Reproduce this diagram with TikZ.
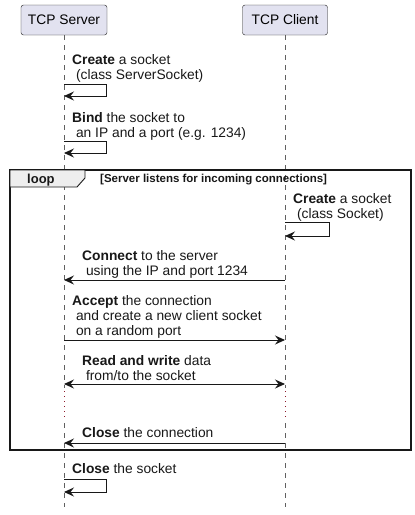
\documentclass[tikz,border=0pt]{standalone}
\usepackage{fontspec}
\setmainfont{Liberation Sans}
\usetikzlibrary{arrows.meta,calc,positioning}
\definecolor{actorfill}{HTML}{E2E2F0}
\definecolor{inkgray}{HTML}{181818}
\definecolor{lifegray}{HTML}{606060}
\definecolor{tabgray}{HTML}{EEEEEE}
\definecolor{delayred}{HTML}{8B1A2B}

\begin{document}
\begin{tikzpicture}[x=1pt, y=-1pt,
	actor/.style={draw=inkgray, fill=actorfill, rounded corners=2.5pt,
		minimum height=30pt, inner sep=0pt, font=\fontsize{13.8}{16}\selectfont},
	lifeline/.style={lifegray, line width=0.6pt, dash pattern=on 5pt off 5pt},
	delay/.style={delayred, line width=0.8pt, dash pattern=on 1pt off 4pt},
	msg/.style={inkgray, line width=0.9pt, -{Stealth[length=10pt, width=9pt, inset=3.5pt]}},
	msgboth/.style={msg, {Stealth[length=10pt, width=9pt, inset=3.5pt]}-{Stealth[length=10pt, width=9pt, inset=3.5pt]}},
	txt/.style={anchor=base west, align=left, inner sep=0pt, text=inkgray,
		font=\fontsize{13.8}{15}\selectfont},
]

% parameters %{{{2

	\def\srvx{64}
	\def\clix{285}
	\def\bottom{507}

	\useasboundingbox (0,0) rectangle (415,515);

% participants %{{{2

	\node[actor, minimum width=86pt] (server) at (\srvx,20) {TCP Server};
	\node[actor, minimum width=85pt] (client) at (\clix,20) {TCP Client};

% coordinates %{{{2

	\coordinate (srvA) at (\srvx,388);
	\coordinate (srvB) at (\srvx,391);
	\coordinate (srvC) at (\srvx,420);
	\coordinate (srvD) at (\srvx,423);
	\coordinate (srvE) at (\srvx,\bottom);
	\coordinate (cliA) at (\clix,388);
	\coordinate (cliB) at (\clix,391);
	\coordinate (cliC) at (\clix,420);
	\coordinate (cliD) at (\clix,423);
	\coordinate (cliE) at (\clix,\bottom);

	% message ends
	\coordinate (s1) at (\srvx,84);
	\coordinate (s1r) at (\srvx,96);
	\coordinate (s2) at (\srvx,141);
	\coordinate (s2r) at (\srvx,153);
	\coordinate (c1) at (\clix,222);
	\coordinate (c1r) at (\clix,236);
	\coordinate (cn1) at (\clix,280);
	\coordinate (cn2) at (\srvx,280);
	\coordinate (ac1) at (\srvx,340);
	\coordinate (ac2) at (\clix,340);
	\coordinate (rw1) at (\srvx,384);
	\coordinate (rw2) at (\clix,384);
	\coordinate (cl1) at (\clix,443);
	\coordinate (cl2) at (\srvx,443);
	\coordinate (s3) at (\srvx,479);
	\coordinate (s3r) at (\srvx,492);

% lifelines %{{{2

	\draw[lifeline] (server.south) -- (srvA);
	\draw[lifeline] (srvD) -- (srvE);
	\draw[lifeline] (client.south) -- (cliA);
	\draw[lifeline] (cliD) -- (cliE);

	\draw[delay] (srvB) -- (srvC);
	\draw[delay] (cliB) -- (cliC);

% loop frame %{{{2

	\draw[inkgray, line width=1.4pt] (10,170) rectangle (411,450);
	\draw[inkgray, line width=0.9pt, fill=tabgray]
		(10,170) -- (85,170) -- (85,178) -- (77,187) -- (10,187) -- cycle;
	\node[txt, font=\bfseries\fontsize{13}{15}\selectfont] (looplbl) at (27,183) {loop};
	\node[txt, font=\bfseries\fontsize{11.5}{13}\selectfont] (loopcond) at (100,182)
		{[Server listens for incoming connections]};

% messages (base = last line) %{{{2

	\node[txt] (create) at (72,79) {\textbf{Create} a socket\\\ (class ServerSocket)};
	\draw[msg] (s1) -- ++(42,0) |- (s1r);

	\node[txt] (bind) at (72,137) {\textbf{Bind} the socket to\\\ an IP and a port (e.g. 1234)};
	\draw[msg] (s2) -- ++(42,0) |- (s2r);

	\node[txt] (createcl) at (293,218) {\textbf{Create} a socket\\\ (class Socket)};
	\draw[msg] (c1) -- ++(44,0) |- (c1r);

	\node[txt] (connect) at (82,275) {\textbf{Connect} to the server\\\ using the IP and port 1234};
	\draw[msg] (cn1) -- (cn2);

	\node[txt] (accept) at (72,335)
		{\textbf{Accept} the connection\\\ and create a new client socket\\\ on a random port};
	\draw[msg] (ac1) -- (ac2);

	\node[txt] (readwrite) at (82,380) {\textbf{Read and write} data\\\ from/to the socket};
	\draw[msgboth] (rw1) -- (rw2);

	\node[txt] (closeconn) at (82,437) {\textbf{Close} the connection};
	\draw[msg] (cl1) -- (cl2);

	\node[txt] (closesock) at (72,473) {\textbf{Close} the socket};
	\draw[msg] (s3) -- ++(42,0) |- (s3r);

% closing %{{{2

\end{tikzpicture}
\end{document}
